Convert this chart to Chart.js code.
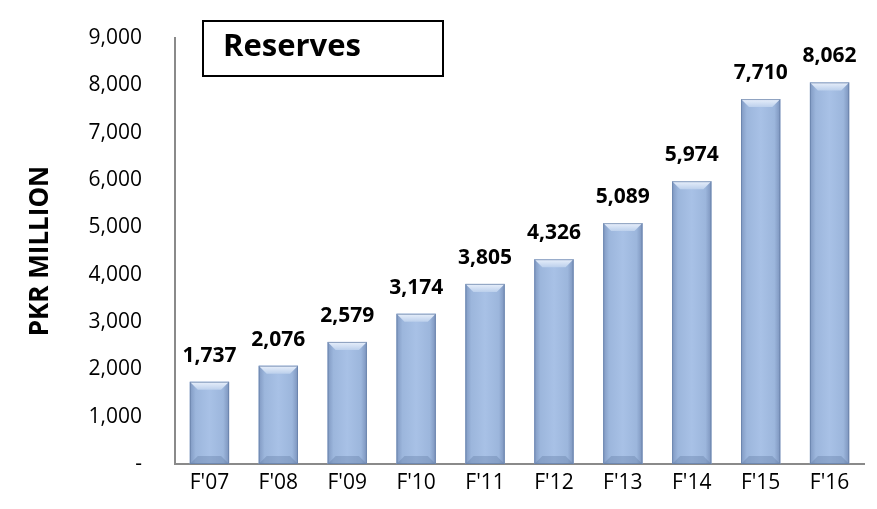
<!DOCTYPE html>
<html>
<head>
<meta charset="utf-8">
<script src="https://cdn.jsdelivr.net/npm/chart.js@4/dist/chart.umd.min.js"></script>
<style>
  html, body { margin: 0; padding: 0; background: #fff; }
  #wrap { width: 877px; height: 509px; }
</style>
</head>
<body>
<div id="wrap"><canvas id="reservesChart" width="877" height="509"></canvas></div>
<script>
const years = ["F'07", "F'08", "F'09", "F'10", "F'11", "F'12", "F'13", "F'14", "F'15", "F'16"];
const reserves = [1737, 2076, 2579, 3174, 3805, 4326, 5089, 5974, 7710, 8062];
const yTicks = [0, 1000, 2000, 3000, 4000, 5000, 6000, 7000, 8000, 9000];
const chartTitle = "Reserves";
const yTitle = "PKR MILLION";

const FONT = "'Open Sans', sans-serif";

// bars: cylinder-ish shading + bevel on top, labels, title box
const barLook = {
    id: "barLook",
    afterDatasetsDraw(chart) {
        const ctx = chart.ctx;
        ctx.save();
        chart.getDatasetMeta(0).data.forEach(bar => {
            const l = bar.x - bar.width / 2, r = bar.x + bar.width / 2;
            const t = bar.y, b = bar.base, d = 8;
            const g = ctx.createLinearGradient(l, 0, r, 0);
            g.addColorStop(0, "#8099c2");
            g.addColorStop(0.15, "#9cb6dc");
            g.addColorStop(0.5, "#a8c1e6");
            g.addColorStop(0.85, "#9cb6dc");
            g.addColorStop(1, "#7c94bd");
            ctx.fillStyle = g;
            ctx.fillRect(l, t, bar.width, b - t);
            // top bevel
            const tg = ctx.createLinearGradient(0, t, 0, t + d);
            tg.addColorStop(0, "#e9f0fb");
            tg.addColorStop(1, "#bcd0ec");
            ctx.fillStyle = tg;
            ctx.beginPath();
            ctx.moveTo(l, t); ctx.lineTo(r, t); ctx.lineTo(r - d, t + d); ctx.lineTo(l + d, t + d);
            ctx.closePath(); ctx.fill();
            // bottom shade
            ctx.fillStyle = "rgba(95,120,160,0.35)";
            ctx.beginPath();
            ctx.moveTo(l, b); ctx.lineTo(r, b); ctx.lineTo(r - d, b - d); ctx.lineTo(l + d, b - d);
            ctx.closePath(); ctx.fill();
            ctx.strokeStyle = "rgba(100,125,165,0.7)";
            ctx.lineWidth = 1;
            ctx.strokeRect(l + 0.5, t + 0.5, bar.width - 1, b - t - 1);
        });
        ctx.restore();
    },
    afterDraw(chart) {
        const ctx = chart.ctx;
        ctx.save();
        // value labels
        ctx.font = "bold 21px " + FONT;
        ctx.fillStyle = "#000";
        ctx.textAlign = "center";
        ctx.textBaseline = "alphabetic";
        chart.getDatasetMeta(0).data.forEach((bar, i) => {
            ctx.fillText(reserves[i].toLocaleString("en-US"), bar.x, bar.y - 20);
        });
        // title box
        ctx.lineWidth = 2;
        ctx.strokeStyle = "#000";
        ctx.strokeRect(203, 21, 240, 55);
        ctx.font = "bold 31px " + FONT;
        ctx.textAlign = "left";
        ctx.fillText(chartTitle, 223, 56);
        ctx.restore();
    }
};

new Chart(document.getElementById("reservesChart"), {
    type: "bar",
    data: {
        labels: years,
        datasets: [{
            label: chartTitle,
            data: reserves,
            backgroundColor: "#a3bde3",
            borderWidth: 0,
            barPercentage: 0.57,
            categoryPercentage: 1
        }]
    },
    options: {
        responsive: false,
        animation: false,
        layout: { padding: { left: 0, right: 13, top: 38, bottom: 0 } },
        plugins: {
            legend: { display: false },
            tooltip: { enabled: false }
        },
        scales: {
            x: {
                afterFit: a => { a.height = 45; a.paddingLeft = 0; a.paddingRight = 0; },
                grid: { display: false, drawTicks: false },
                border: { color: "#8a8a8a", width: 2 },
                ticks: { color: "#000", font: { size: 21, family: FONT }, padding: 6 }
            },
            y: {
                min: 0,
                max: 9000,
                afterFit: a => { a.width = 175; a.paddingTop = 0; a.paddingBottom = 0; },
                afterBuildTicks: axis => { axis.ticks = yTicks.map(v => ({ value: v })); },
                grid: { display: false, drawTicks: false },
                border: { color: "#8a8a8a", width: 2 },
                ticks: {
                    color: "#000",
                    font: { size: 21, family: FONT },
                    padding: 33,
                    callback: v => v === 0 ? "-" : v.toLocaleString("en-US")
                },
                title: {
                    display: true,
                    text: yTitle,
                    color: "#000",
                    font: { size: 26, weight: "bold", family: FONT },
                    padding: { top: 25, bottom: 0 }
                }
            }
        }
    },
    plugins: [barLook]
});
</script>
</body>
</html>
